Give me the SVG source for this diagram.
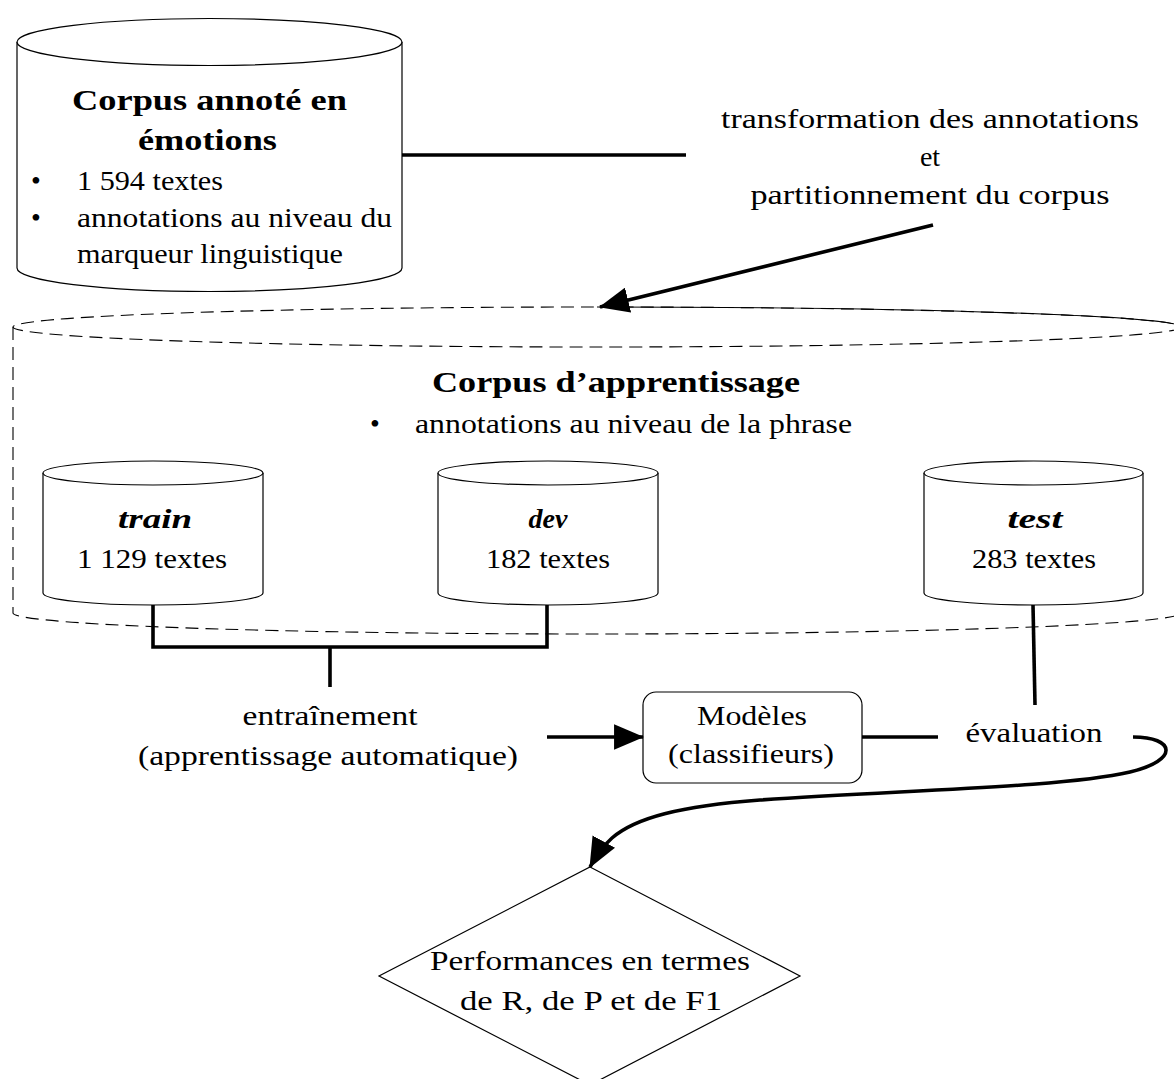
<svg xmlns="http://www.w3.org/2000/svg" width="1174" height="1079" viewBox="0 0 1174 1079" font-family="'Liberation Serif', 'DejaVu Serif', serif">
<defs>
<style>
.shape{fill:#fff;stroke:#000;stroke-width:1.2}
.dash{fill:none;stroke:#000;stroke-width:1.1;stroke-dasharray:13 7}
.thin{fill:none;stroke:#000;stroke-width:1.1}
.conn{fill:none;stroke:#000;stroke-width:3.6}
text{font-family:'Liberation Serif','DejaVu Serif',serif;font-size:28px;fill:#000}
.c{text-anchor:middle}
.b{font-weight:bold;font-size:29px}
.bi{font-weight:bold;font-style:italic}
</style>
<marker id="ah" markerUnits="userSpaceOnUse" markerWidth="30" markerHeight="26" viewBox="0 0 28 24" refX="27" refY="12" orient="auto">
<path d="M0,0 L28,12 L0,24 z" fill="#000"/>
</marker>
</defs>

<g id="corpus-annote">
<path class="shape" d="M17,42 L17,268 A192.5,23.5 0 0 0 402,268 L402,42"/>
<ellipse class="shape" cx="209.5" cy="42" rx="192.5" ry="23.5"/>
<text class="c b" x="209.5" y="110" textLength="275" lengthAdjust="spacingAndGlyphs">Corpus annoté en</text>
<text class="c b" x="207.5" y="150" textLength="139" lengthAdjust="spacingAndGlyphs">émotions</text>
<text x="31" y="190">•</text>
<text x="77" y="190" textLength="146" lengthAdjust="spacingAndGlyphs">1 594 textes</text>
<text x="31" y="227">•</text>
<text x="77" y="227" textLength="315" lengthAdjust="spacingAndGlyphs">annotations au niveau du</text>
<text x="77" y="263" textLength="266" lengthAdjust="spacingAndGlyphs">marqueur linguistique</text>
</g>

<g id="label-transformation">
<text class="c" x="930" y="128" textLength="418" lengthAdjust="spacingAndGlyphs">transformation des annotations</text>
<text class="c" x="930" y="166">et</text>
<text class="c" x="930" y="204" textLength="359" lengthAdjust="spacingAndGlyphs">partitionnement du corpus</text>
</g>

<g id="corpus-apprentissage">
<ellipse class="dash" cx="597" cy="327" rx="584" ry="20"/>
<path class="dash" d="M13,327 L13,613 A584,21 0 0 0 1181,613 L1181,327"/>
<path class="thin" d="M597,307 A584,20 0 0 1 1181,327"/>
<text class="c b" x="616" y="392" textLength="368" lengthAdjust="spacingAndGlyphs">Corpus d’apprentissage</text>
<text x="370" y="433">•</text>
<text x="415" y="433" textLength="437" lengthAdjust="spacingAndGlyphs">annotations au niveau de la phrase</text>
</g>

<g id="train">
<path class="shape" d="M43,473 L43,593 A110,12 0 0 0 263,593 L263,473"/>
<ellipse class="shape" cx="153" cy="473" rx="110" ry="12"/>
<text class="c bi" x="155" y="528" textLength="74" lengthAdjust="spacingAndGlyphs">train</text>
<text class="c" x="152" y="568" textLength="150" lengthAdjust="spacingAndGlyphs">1 129 textes</text>
</g>

<g id="dev">
<path class="shape" d="M438,473 L438,593 A110,12 0 0 0 658,593 L658,473"/>
<ellipse class="shape" cx="548" cy="473" rx="110" ry="12"/>
<text class="c bi" x="548" y="528">dev</text>
<text class="c" x="548" y="568" textLength="124" lengthAdjust="spacingAndGlyphs">182 textes</text>
</g>

<g id="test">
<path class="shape" d="M924,473 L924,593 A109.5,12 0 0 0 1143,593 L1143,473"/>
<ellipse class="shape" cx="1033.5" cy="473" rx="109.5" ry="12"/>
<text class="c bi" x="1035" y="528" textLength="55" lengthAdjust="spacingAndGlyphs">test</text>
<text class="c" x="1034" y="568" textLength="124" lengthAdjust="spacingAndGlyphs">283 textes</text>
</g>

<g id="label-entrainement">
<text class="c" x="330" y="725" textLength="175" lengthAdjust="spacingAndGlyphs">entraînement</text>
<text class="c" x="328" y="765" textLength="380" lengthAdjust="spacingAndGlyphs">(apprentissage automatique)</text>
</g>

<g id="modeles">
<rect class="shape" x="643" y="692" width="219" height="91" rx="13" ry="13"/>
<text class="c" x="752" y="725" textLength="110" lengthAdjust="spacingAndGlyphs">Modèles</text>
<text class="c" x="751" y="763" textLength="166" lengthAdjust="spacingAndGlyphs">(classifieurs)</text>
</g>

<g id="label-evaluation">
<text class="c" x="1034" y="742" textLength="137" lengthAdjust="spacingAndGlyphs">évaluation</text>
</g>

<g id="performances">
<polygon class="shape" points="590,867 800,976 590,1085 379,976"/>
<text class="c" x="590" y="970" textLength="320" lengthAdjust="spacingAndGlyphs">Performances en termes</text>
<text class="c" x="591" y="1010" textLength="262" lengthAdjust="spacingAndGlyphs">de R, de P et de F1</text>
</g>

<g id="connectors">
<path class="conn" d="M402,155 H686"/>
<path class="conn" d="M933,225 L600,307" marker-end="url(#ah)"/>
<path class="conn" d="M153,605 V647 H547 V605"/>
<path class="conn" d="M330,647 V687"/>
<path class="conn" d="M547,737 H643" marker-end="url(#ah)"/>
<path class="conn" d="M862,737 H938"/>
<path class="conn" d="M1033,605 L1035,705"/>
<path class="conn" d="M1133,737 C1175,737 1180,760 1130,772 C1060,788 900,790 760,800 C680,806 635,818 612,838 C602,847 596,856 590,867" marker-end="url(#ah)"/>
</g>
</svg>
